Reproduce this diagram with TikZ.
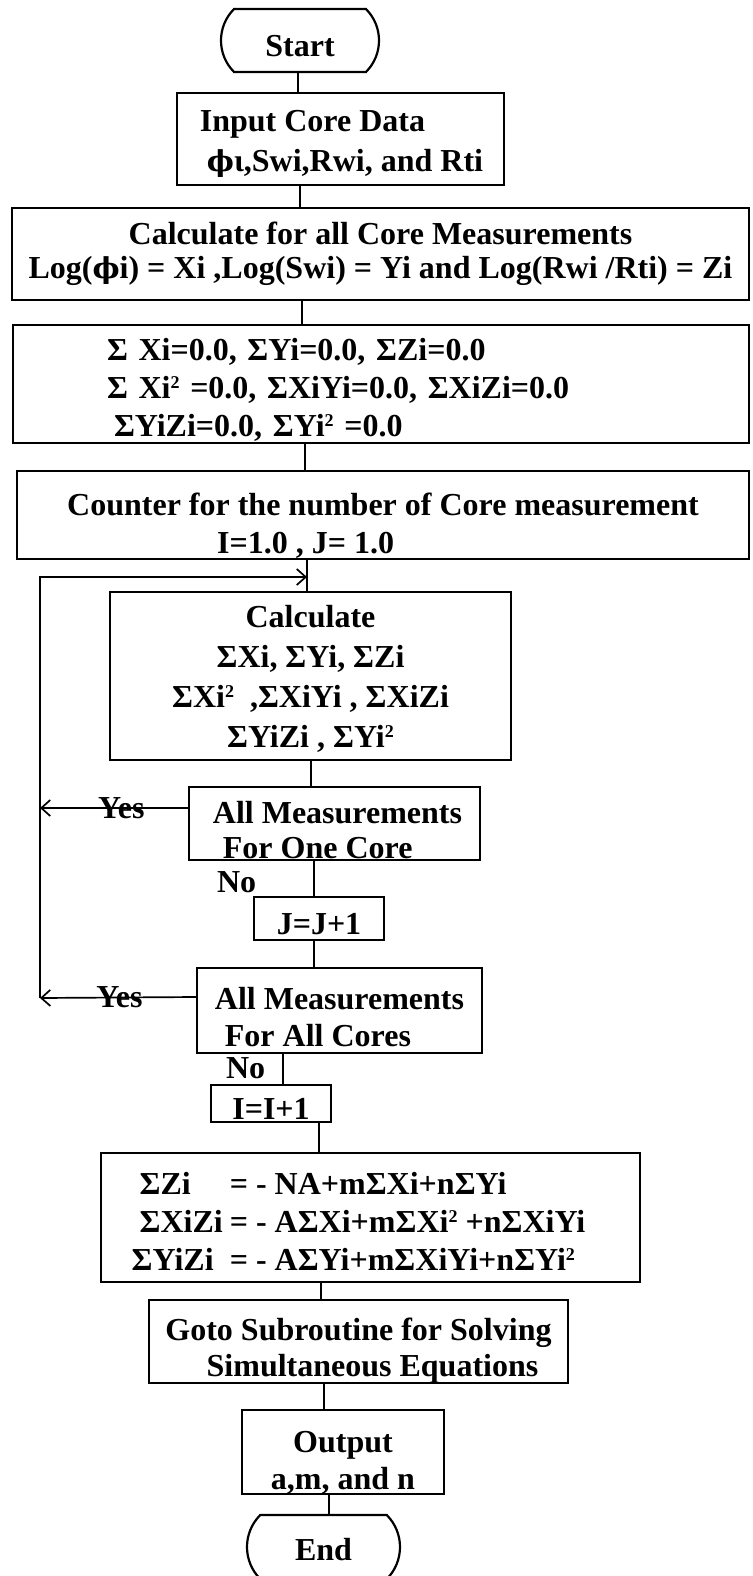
\documentclass[tikz,border=0pt]{standalone}
\usepackage{fontspec}
\setmainfont{Liberation Serif}
\newfontfamily\phifont{DejaVu Serif}[Scale=0.9]
\usetikzlibrary{arrows.meta,shapes.misc}
\newcommand{\tstr}[1]{\rule{0pt}{#1pt}}
\newcommand{\mysq}{\raisebox{10pt}{\fontsize{18}{18}\selectfont 2}}
\newcommand{\myphi}{{\phifont ϕ}}
\tikzset{
  txt/.style={font=\fontsize{32}{38}\selectfont\bfseries},
  box/.style={txt, draw, line width=2.2pt, rectangle, inner sep=0pt},
  term/.style={txt, draw, line width=2.2pt, rounded rectangle, rounded rectangle arc length=90, inner sep=0pt},
  conn/.style={line width=1.7pt},
  arr/.style={conn, -{Straight Barb[length=9pt,width=16pt,line width=1.7pt]}},
  lbl/.style={txt, inner sep=0pt}
}
\begin{document}
\begin{tikzpicture}[x=1pt,y=-1pt]
\useasboundingbox (0,0) rectangle (752,1576);
\clip (0,0) rectangle (752,1576);
% nodes
\node[term, minimum width=158pt, minimum height=63pt] (start) at (300,40.5) {\tstr{32.5}Start};
\node[box, minimum width=327pt, minimum height=92pt, align=left, font=\fontsize{32}{40}\selectfont\bfseries] (input) at (340.5,139)
  {\tstr{30}\hspace*{2pt}Input Core Data\\\hspace*{9pt}\myphi ι,Swi,Rwi, and Rti};
\node[box, minimum width=737pt, minimum height=92pt, align=center, font=\fontsize{32}{34}\selectfont\bfseries] (calc) at (380.5,254)
  {Calculate for all Core Measurements\\Log(\myphi i) = Xi ,Log(Swi) = Yi and Log(Rwi /Rti) = Zi};
\node[box, minimum width=736pt, minimum height=118pt, align=left, text width=548pt] (sigma) at (381,384)
  {\tstr{34.5}Σ Xi=0.0, ΣYi=0.0, ΣZi=0.0\\
   Σ Xi\mysq\ =0.0, ΣXiYi=0.0, ΣXiZi=0.0\\
   \hspace*{7pt}ΣYiZi=0.0, ΣYi\mysq\ =0.0};
\node[box, minimum width=732pt, minimum height=84pt, align=left] (counter) at (383,515)
  {\tstr{44.5}Counter for the number of Core measurement\\\hspace*{150pt}I=1.0 , J= 1.0};
\node[box, minimum width=401pt, minimum height=168pt, align=center, font=\fontsize{32}{40}\selectfont\bfseries] (sums) at (310.5,676)
  {\tstr{27}Calculate\\ΣXi, ΣYi, ΣZi\\ΣXi\mysq\ \ ,ΣXiYi , ΣXiZi\\ΣYiZi , ΣYi\mysq};
\node[box, minimum width=291pt, minimum height=73pt, align=left, font=\fontsize{32}{35}\selectfont\bfseries] (one) at (334.5,823.5)
  {\tstr{34.5}\hspace*{6pt}All Measurements\\\hspace*{16pt}For One Core};
\node[box, minimum width=130pt, minimum height=43pt] (jinc) at (319,918.5) {\tstr{32.5}J=J+1};
\node[box, minimum width=285pt, minimum height=85pt, align=left, font=\fontsize{32}{37}\selectfont\bfseries] (cores) at (339.5,1010.5)
  {\tstr{34.5}All Measurements\\\hspace*{10pt}For All Cores};
\node[box, minimum width=120pt, minimum height=37pt] (iinc) at (271,1103.5) {\tstr{32.5}I=I+1};
\node[box, minimum width=539pt, minimum height=129pt, align=left] (eqs) at (370.5,1217.5)
  {\begin{tabular}{@{}l@{}l@{\hspace{24pt}}}
   \tstr{42}\hspace*{8pt}ΣZi & = - NA+mΣXi+nΣYi\\
   \hspace*{8pt}ΣXiZi\hspace{7pt} & = - AΣXi+mΣXi\mysq\ +nΣXiYi\\
   ΣYiZi & = - AΣYi+mΣXiYi+nΣYi\mysq
   \end{tabular}};
\node[box, minimum width=419pt, minimum height=83pt, align=center, font=\fontsize{32}{36}\selectfont\bfseries] (goto) at (358.5,1341.5)
  {\tstr{40.5}Goto Subroutine for Solving\\\hspace*{28pt}Simultaneous Equations};
\node[box, minimum width=202pt, minimum height=80pt, align=center, font=\fontsize{32}{37}\selectfont\bfseries] (output) at (343,1452)
  {\tstr{42.5}Output\\a,m, and n};
\node[term, minimum width=153pt, minimum height=64pt] (endn) at (323.5,1547) {\tstr{26.5}End};
% loop coordinates
\coordinate (ltop) at (40,577);
\coordinate (lbot) at (40,998);
\coordinate (ljoin) at (307,577);
% main connectors
\draw[conn] (start.south -| 298,0) -- (input.north -| 298,0);
\draw[conn] (input.south -| 300,0) -- (calc.north -| 300,0);
\draw[conn] (calc.south -| 302,0) -- (sigma.north -| 302,0);
\draw[conn] (sigma.south -| 305,0) -- (counter.north -| 305,0);
\draw[conn] (counter.south -| 307,0) -- (sums.north -| 307,0);
\draw[conn] (sums.south -| 311,0) -- (one.north -| 311,0);
\draw[conn] (one.south -| 314,0) -- node[lbl, pos=0.6, left=57pt, anchor=east] {No} (jinc.north -| 314,0);
\draw[conn] (jinc.south -| 314,0) -- (cores.north -| 314,0);
\draw[conn] (cores.south -| 283,0) -- node[lbl, pos=0.48, left=17pt, anchor=east] {No} (iinc.north -| 283,0);
\draw[conn] (iinc.south -| 319,0) -- (eqs.north -| 319,0);
\draw[conn] (eqs.south -| 321,0) -- (goto.north -| 321,0);
\draw[conn] (goto.south -| 324,0) -- (output.north -| 324,0);
\draw[conn] (output.south -| 329,0) -- (endn.north -| 329,0);
% loop back
\draw[arr] (one.west |- 0,808) -- node[lbl, pos=0.45] {Yes} (ltop |- 0,808);
\draw[arr] (cores.west |- 0,997) -- node[lbl, pos=0.49] {Yes} (lbot);
\draw[arr] (lbot) -- (ltop) -- (ljoin);
\end{tikzpicture}
\end{document}
